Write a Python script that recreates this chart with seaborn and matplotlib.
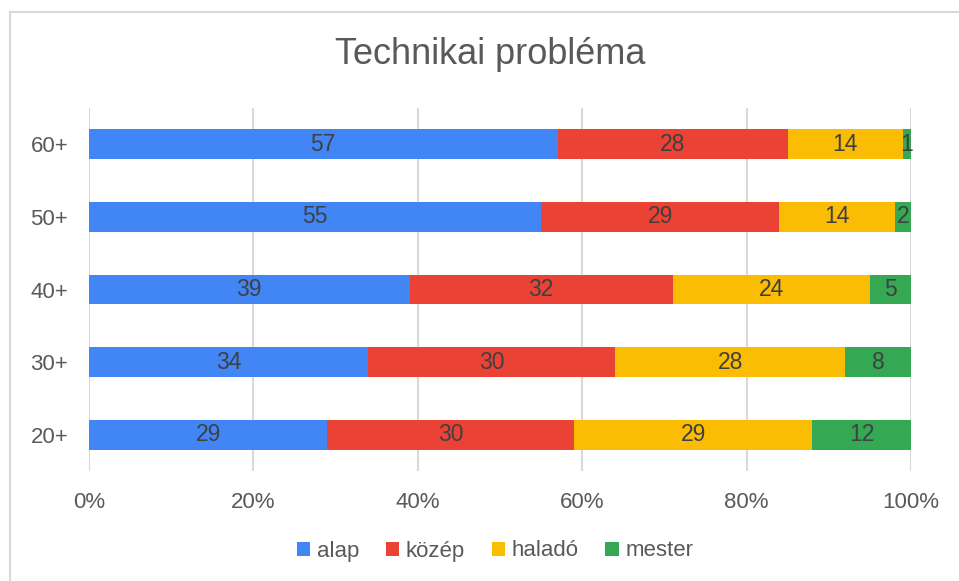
"""
Technikai probléma - 100% stacked horizontal bars by age group
"""
import numpy as np
import pandas as pd
import matplotlib
matplotlib.use("Agg")
import matplotlib.pyplot as plt
from matplotlib.patches import Patch, Rectangle
import seaborn as sns

# data (top to bottom as shown)
age_groups = ["60+", "50+", "40+", "30+", "20+"]
alap = [57, 55, 39, 34, 29]
kozep = [28, 29, 32, 30, 30]
halado = [14, 14, 24, 28, 29]
mester = [1, 2, 5, 8, 12]

series_names = ["alap", "közép", "haladó", "mester"]
series_vals = [alap, kozep, halado, mester]
colors = ["#4285F4", "#EA4335", "#FBBC04", "#34A853"]
x_ticks = [0, 20, 40, 60, 80, 100]

sns.set_theme(style="white")
plt.rcParams["font.family"] = ["Liberation Sans", "DejaVu Sans"]

fig = plt.figure(figsize=(9.59, 5.81), dpi=100)
ax = fig.add_axes([89 / 959, 1 - 471 / 581, (911 - 89) / 959, (471 - 108) / 581])

# cumulative totals, drawn from the widest stack down
vals = np.array(series_vals, dtype=float)
totals = vals.sum(axis=0)
pct = vals / totals * 100
cum = np.cumsum(pct, axis=0)

for i in range(len(series_names) - 1, -1, -1):
    df = pd.DataFrame({"group": age_groups, "x": cum[i]})
    sns.barplot(data=df, x="x", y="group", order=age_groups, orient="h",
                color=colors[i], saturation=1, width=0.41, ax=ax, linewidth=0)

# labels in the middle of each segment
for i in range(len(series_names)):
    left = cum[i] - pct[i]
    for j, g in enumerate(age_groups):
        ax.text(left[j] + pct[i][j] / 2, j, f"{int(vals[i][j])}",
                ha="center", va="center", fontsize=16.5, color="#404040")

ax.set_xlim(0, 100)
ax.set_ylim(4.5, -0.5)
ax.set_xticks(x_ticks)
ax.set_xticklabels([f"{t}%" for t in x_ticks])
ax.set_xlabel("")
ax.set_ylabel("")
ax.tick_params(axis="both", length=0, labelsize=16, labelcolor="#595959", pad=15)
ax.xaxis.grid(True, color="#d9d9d9", linewidth=1.5)
ax.yaxis.grid(False)
ax.set_axisbelow(True)
sns.despine(ax=ax, left=True, bottom=True)

fig.text(490 / 959, 1 - 55 / 581, "Technikai probléma", ha="center", va="center",
         fontsize=26, color="#595959")

handles = [Patch(facecolor=c, edgecolor="none") for c in colors]
fig.legend(handles, series_names, loc="center", bbox_to_anchor=(495 / 959, 1 - 551 / 581),
           ncol=4, frameon=False, fontsize=16, labelcolor="#595959",
           handlelength=0.6, handleheight=0.6, handletextpad=0.3, columnspacing=1.2)

# light frame of the chart (cut off at right and bottom)
fig.patches.append(Rectangle((10 / 959, -0.1), 1.2, 1 - 12 / 581 + 0.1,
                             transform=fig.transFigure, fill=False,
                             edgecolor="#d9d9d9", linewidth=1.5))

fig.savefig("out.png", dpi=100)
